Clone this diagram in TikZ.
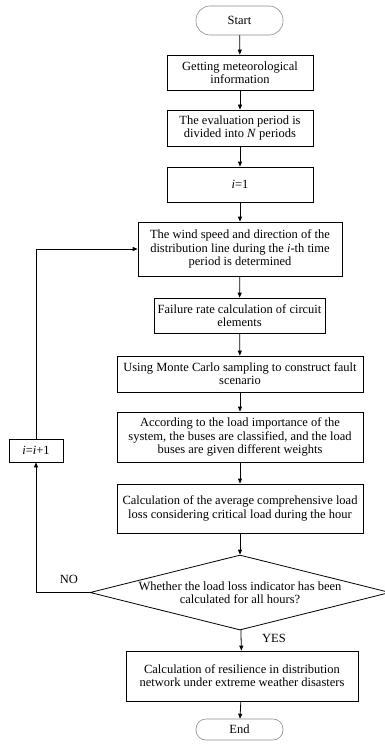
\documentclass[tikz,border=0pt]{standalone}
\usepackage{fontspec}
\setmainfont{Liberation Serif}
\usetikzlibrary{shapes.geometric,arrows.meta}
\begin{document}
\begin{tikzpicture}[x=1pt,y=-1pt,font=\fontsize{12.5}{13.3}\selectfont]
		\tikzstyle{step box}=[rectangle,draw=black,line width=0.8pt,align=center,inner sep=1pt]
		\tikzstyle{term}=[rectangle,draw=black!45,line width=0.6pt,minimum width=87pt]
		\tikzstyle{flow}=[draw=black,line width=0.8pt,-{Triangle[length=5pt,width=4pt]}]
		\useasboundingbox (0,0) rectangle (385,749);
		\begin{scope}
		\node[term,minimum height=29pt,rounded corners=14pt] (start) at (239.5,20.5) {Start};
		\node[step box,minimum width=146pt,minimum height=35pt] (info) at (240,72.5) {Getting meteorological\\information};
		\node[step box,minimum width=146pt,minimum height=36pt] (period) at (240,128) {The evaluation period is\\divided into \textit{N} periods};
		\node[step box,minimum width=146pt,minimum height=35pt] (init) at (240,184.5) {\textit{i}=1};
		\node[step box,minimum width=204pt,minimum height=54pt] (wind) at (240,249) {The wind speed and direction of the\\distribution line during the \textit{i}-th time\\period is determined};
		\node[step box,minimum width=171pt,minimum height=35pt] (fail) at (239.5,315.5) {Failure rate calculation of circuit\\elements};
		\node[step box,minimum width=246pt,minimum height=36pt] (mc) at (240,374) {Using Monte Carlo sampling to construct fault\\scenario};
		\node[step box,minimum width=246pt,minimum height=50pt] (bus) at (240,437) {According to the load importance of the\\system, the buses are classified, and the load\\buses are given different weights};
		\node[step box,minimum width=246pt,minimum height=49pt] (loss) at (240,508.5) {Calculation of the average comprehensive load\\loss considering critical load during the hour};
		\node[diamond,draw=black,line width=0.8pt,minimum width=300pt,minimum height=75pt,inner sep=0pt,
			label={[align=center]center:Whether the load loss indicator has been\\calculated for all hours?}] (check) at (240,592.5) {};
		\node[step box,minimum width=54pt,minimum height=23pt] (incr) at (36,450.5) {\textit{i}=\textit{i}+1};
		\node[step box,minimum width=232pt,minimum height=50pt] (res) at (242,676) {Calculation of resilience in distribution\\network under extreme weather disasters};
		\node[term,minimum height=21pt,rounded corners=10pt] (end) at (239.5,729.5) {End};
		\node (no) at (69,579) {NO};
		\node (yes) at (274,638) {YES};
		\end{scope}
		
		\path[flow]
		(start) edge (info)
		(info) edge (period)
		(period) edge (init)
		(init) edge (wind)
		(wind) edge (fail)
		(fail) edge (mc)
		(mc) edge (bus)
		(bus) edge (loss)
		(loss) edge (check)
		(check) edge (res)
		(res) edge (end)
		;
		\draw[flow] (check.west) -| (incr.south);
		\draw[flow] (incr.north) |- (wind.west);
		
		\end{tikzpicture}
\end{document}
